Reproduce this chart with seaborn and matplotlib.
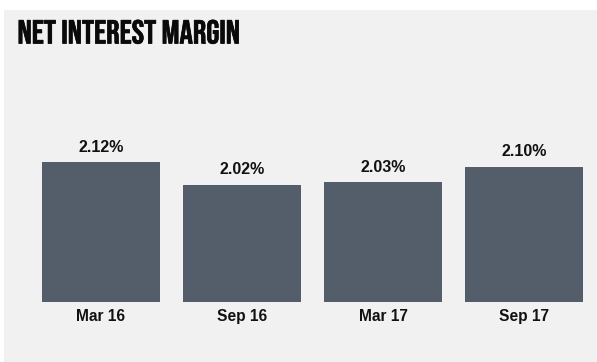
import matplotlib
matplotlib.use("Agg")
import matplotlib.pyplot as plt
import matplotlib.patheffects as pe
import seaborn as sns
import pandas as pd
from matplotlib.patches import Rectangle

categories = ["Mar 16", "Sep 16", "Mar 17", "Sep 17"]
values = [2.12, 2.02, 2.03, 2.10]
value_labels = ["2.12%", "2.02%", "2.03%", "2.10%"]

df = pd.DataFrame({"period": categories, "nim": values})

sns.set_theme(style="white")
plt.rcParams["font.family"] = ["Liberation Sans", "DejaVu Sans"]

W, H = 597, 362
fig = plt.figure(figsize=(W / 100, H / 100), dpi=100)
fig.patch.set_facecolor("white")
bg = "#f1f1f1"
fig.patches.append(Rectangle((4 / W, 0), 1 - 4 / W, 1 - 10 / H, transform=fig.transFigure,
                             facecolor=bg, edgecolor="none", zorder=-10))

ax = fig.add_axes([30.5 / W, 60.3 / H, 564 / W, 180 / H])
ax.set_facecolor("none")
sns.barplot(data=df, x="period", y="nim", color="#535e6a", saturation=1, width=0.834,
            linewidth=0, edgecolor="none", ax=ax)
ax.set_ylim(1.5, 2.3)
ax.set_xlim(-0.5, 3.5)
for s in ax.spines.values():
    s.set_visible(False)
ax.set_yticks([])
ax.set_ylabel("")
ax.set_xlabel("")
ax.tick_params(axis="x", length=0, pad=5.5)
for t in ax.get_xticklabels():
    t.set_fontweight("bold")
    t.set_fontsize(11.2)
    t.set_color("#111111")

ax.bar_label(ax.containers[0], labels=value_labels, padding=5.3, fontsize=11.5,
             fontweight="bold", color="#111111")

fig.text(17.5 / W, 1 - 43.5 / H, "NET INTEREST MARGIN", fontsize=24,
         family=["Bebas Neue", "DejaVu Sans"], color="#0a0a0a", va="baseline",
         path_effects=[pe.withStroke(linewidth=0.5, foreground="#0a0a0a")])

fig.savefig("out.png", dpi=100, facecolor=fig.get_facecolor())
